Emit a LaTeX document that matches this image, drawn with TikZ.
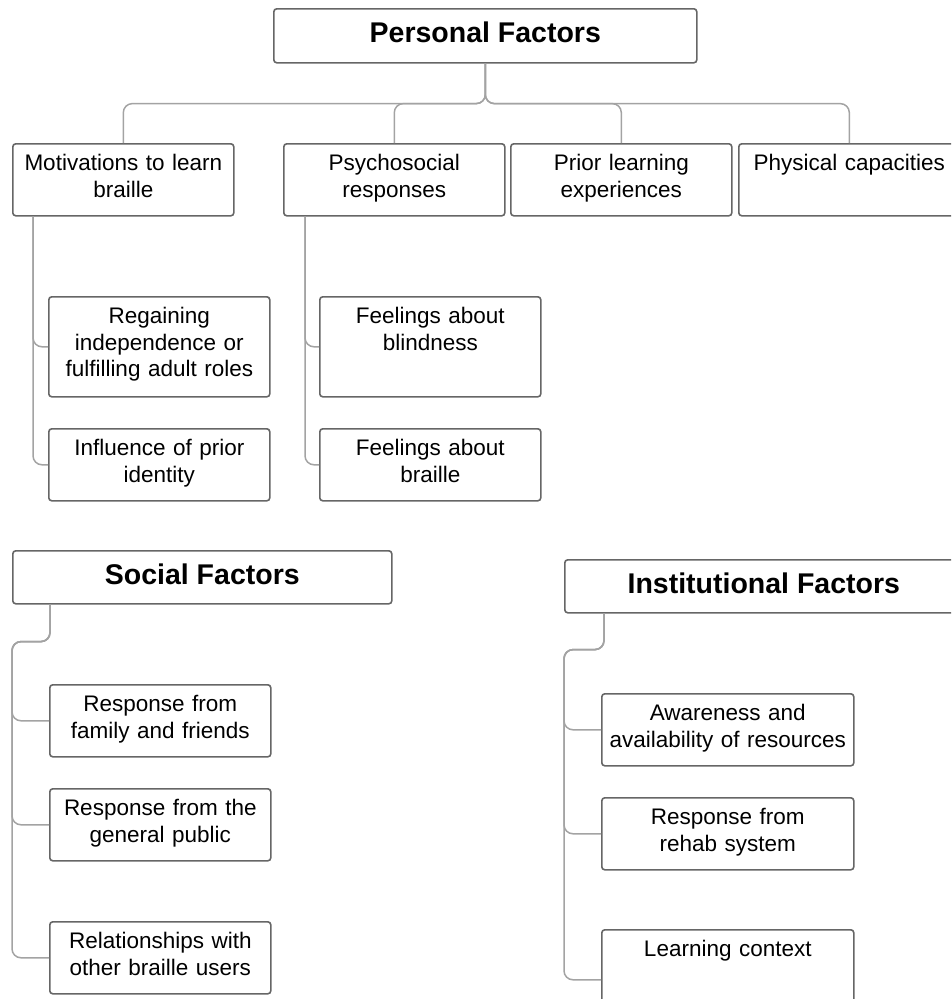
\documentclass[tikz,border=0pt]{standalone}
\usepackage{fontspec}
\setmainfont{Liberation Sans}
\usetikzlibrary{positioning,calc}
\definecolor{boxline}{HTML}{666666}
\definecolor{linkline}{HTML}{A3A3A3}
\tikzset{every picture/.style={x=1pt,y=-1pt}}
\tikzset{item/.style={draw=boxline,line width=1.6pt,rounded corners=3pt,fill=white,anchor=north west,
  align=center,inner xsep=8pt,inner ysep=0pt,text width=205pt,text height=27pt,text depth=45pt,
  font=\fontsize{22.5}{26.5}\selectfont}}
\tikzset{tall/.style={text depth=73pt}}
\tikzset{wide/.style={text width=244pt,inner xsep=4pt}}
\tikzset{head/.style={draw=boxline,line width=1.6pt,rounded corners=3pt,fill=white,anchor=north west,
  inner sep=0pt,text depth=7pt,font=\bfseries\fontsize{28.5}{34}\selectfont}}
\tikzset{link/.style={draw=linkline,line width=1.5pt,rounded corners=9pt}}

\begin{document}
\begin{tikzpicture}
      \path[use as bounding box,clip] (0,0) rectangle (951,999);
      \node[head,minimum width=423pt,minimum height=54pt] (pers) at (273,8) {Personal Factors};
      \node[item] (mot) at (12,143) {Motivations to learn\\braille};
      \node[item] (psy) at (283,143) {Psychosocial\\responses};
      \node[item] (prior) at (510,143) {Prior learning\\experiences};
      \node[item] (phys) at (738,143) {Physical capacities};
      \node[item,tall] (reg) at (48,296) {Regaining\\independence or\\fulfilling adult roles};
      \node[item] (infl) at (48,428) {Influence of prior\\identity};
      \node[item,tall] (fblind) at (319,296) {Feelings about\\blindness};
      \node[item] (fbraille) at (319,428) {Feelings about\\braille};
      \node[head,minimum width=379pt,minimum height=53pt] (soc) at (12,550) {Social Factors};
      \node[item] (fam) at (49,684) {Response from\\family and friends};
      \node[item] (pub) at (49,788) {Response from the\\general public};
      \node[item] (rel) at (49,921) {Relationships with\\other braille users};
      \node[head,minimum width=398pt,minimum height=53pt] (inst) at (564,559) {Institutional Factors};
      \node[item,wide] (aware) at (601,693) {Awareness and\\availability of resources};
      \node[item,wide] (rehab) at (601,797) {Response from\\rehab system};
      \node[item,wide,tall] (ctx) at (601,929) {Learning context};
      \foreach \c in {mot,psy,prior,phys}
        \draw[link] (pers.south) -- ++(0,40) -| (\c.north);
      \foreach \c in {reg,infl}
        \draw[link] ($(mot.south west)+(21,0)$) |- (\c.west);
      \foreach \c in {fblind,fbraille}
        \draw[link] ($(psy.south west)+(22,0)$) |- (\c.west);
      \foreach \c in {fam,pub,rel}
        \draw[link] ($(soc.south west)+(38,0)$) |- ($(soc.south west)+(0,37)$) |- (\c.west);
      \foreach \c in {aware,rehab,ctx}
        \draw[link] ($(inst.south west)+(40,0)$) |- ($(inst.south west)+(0,36)$) |- (\c.west);
    \end{tikzpicture}
\end{document}
